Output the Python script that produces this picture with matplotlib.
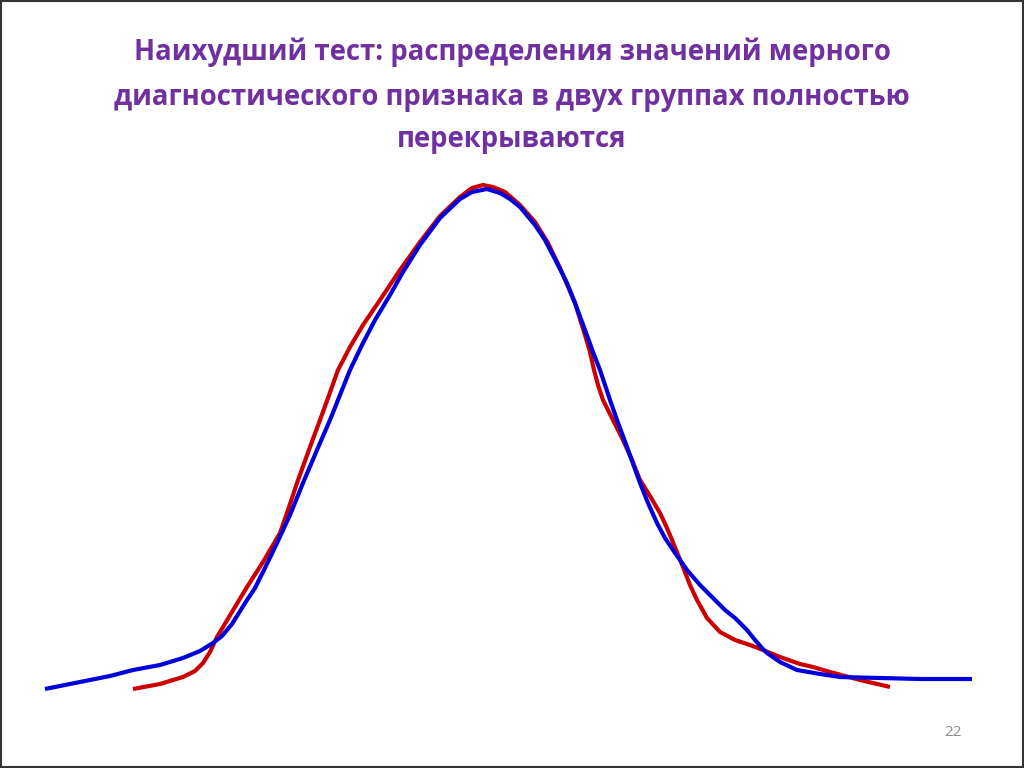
import matplotlib
matplotlib.use("Agg")
import matplotlib.pyplot as plt
from matplotlib.patches import Rectangle

title_lines = [
    "Наихудший тест: распределения значений мерного",
    "диагностического признака в двух группах полностью",
    "перекрываются",
]
page_number = "22"

red_x = [133, 160, 183, 195, 203, 210, 217, 223, 232, 247, 263, 280, 288, 297, 310, 320, 328, 338,
         350, 363, 380, 400, 420, 440, 460, 472, 483, 493, 505, 520, 535, 548, 560, 575, 585, 590,
         594, 598, 603, 610, 617, 623, 632, 640, 650, 660, 667, 672, 683, 690, 697, 707, 720, 735,
         750, 763, 780, 800, 813, 830, 860, 890]
red_y = [689, 684, 677, 671, 663, 652, 637, 627, 612, 587, 562, 533, 510, 483, 447, 420, 398, 370,
         347, 325, 300, 270, 242, 216, 197, 188, 185, 187, 192, 205, 222, 243, 268, 303, 335, 352,
         370, 385, 400, 414, 428, 440, 460, 480, 496, 513, 528, 540, 567, 585, 600, 618, 632, 640,
         645, 650, 657, 664, 667, 672, 680, 687]

blue_x = [45, 80, 110, 133, 160, 183, 200, 213, 222, 232, 247, 255, 265, 277, 290, 303, 317, 330,
          338, 350, 362, 375, 390, 403, 420, 440, 460, 472, 487, 500, 510, 520, 535, 545, 558, 567,
          575, 585, 593, 600, 610, 617, 627, 640, 648, 657, 665, 673, 687, 700, 713, 725, 735, 747,
          755, 762, 767, 780, 797, 820, 840, 880, 920, 972]
blue_y = [689, 682, 676, 670, 665, 658, 651, 643, 636, 624, 600, 588, 568, 543, 515, 483, 450, 420,
          400, 370, 345, 320, 295, 272, 245, 218, 199, 192, 189, 193, 199, 207, 225, 240, 265, 283,
          303, 330, 352, 370, 400, 420, 447, 483, 503, 523, 538, 550, 570, 585, 598, 610, 618, 630,
          640, 648, 653, 662, 670, 674, 677, 678, 679, 679]

fig = plt.figure(figsize=(10.24, 7.68), dpi=100)
fig.patch.set_facecolor("white")
ax = fig.add_axes([0, 0, 1, 1])
ax.set_xlim(0, 1024)
ax.set_ylim(768, 0)
ax.axis("off")

ax.plot(red_x, red_y, color="#cc0000", lw=3.0, solid_capstyle="butt",
        solid_joinstyle="round", zorder=2)
ax.plot(blue_x, blue_y, color="#0000dd", lw=3.0, solid_capstyle="butt",
        solid_joinstyle="round", zorder=3)

title_y = [52, 97, 140]
for line, y in zip(title_lines, title_y):
    ax.text(512, y, line, ha="center", va="center", fontsize=19.8, fontweight="bold",
            color="#7030a0", family=["Open Sans", "DejaVu Sans"])

ax.text(953, 733, page_number, ha="center", va="center", fontsize=11, color="#8c8c8c",
        family=["Open Sans", "DejaVu Sans"])

fig.patches.append(Rectangle((0.001, 0.001), 0.998, 0.998, transform=fig.transFigure,
                             fill=False, edgecolor="#333333", lw=1.5))

fig.savefig("out.png", dpi=100)
